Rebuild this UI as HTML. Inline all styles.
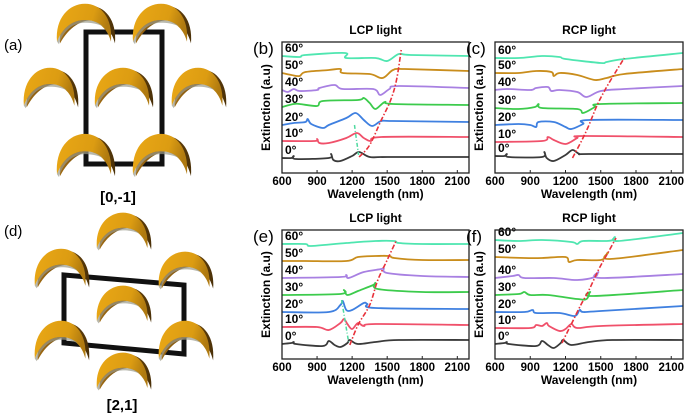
<!DOCTYPE html>
<html><head><meta charset="utf-8"><style>
html,body{margin:0;padding:0;background:#fff;width:685px;height:417px;overflow:hidden}
svg{display:block}
text{font-family:"Liberation Sans",Arial,sans-serif}
.b{font-weight:bold}
</style></head><body>
<svg id="s" width="685" height="417" viewBox="0 0 685 417" xmlns="http://www.w3.org/2000/svg">
<defs>
<linearGradient id="g" x1="0" y1="0" x2="1" y2="0.2">
<stop offset="0" stop-color="#eaa816"/><stop offset="0.7" stop-color="#dc9c12"/><stop offset="1" stop-color="#b07a10"/>
</linearGradient>
<linearGradient id="g2" x1="0" y1="0" x2="1" y2="0">
<stop offset="0" stop-color="#a06a10"/><stop offset="1" stop-color="#4a3008"/>
</linearGradient>
<symbol id="cr" viewBox="0 0 62 50" preserveAspectRatio="none">
<path d="M5,46 C4,20 18,4 34,4 C50,4 62,20 60,46 C56,30 48,21 38,20 C26,20 14,28 5,46 Z" fill="url(#g2)"/>
<path d="M2,44 C0,18 14,2 30,2 C46,2 58,18 56,44 C52,28 42,20 30,20 C18,20 8,28 2,44 Z" fill="url(#g)"/>
<path d="M2,44 C8,28 18,20 30,20 C38,20 44,23 48,27 C42,24 36,23 30,23 C18,23 8,32 4,47 Z" fill="#9a9a8a" opacity="0.7"/>
</symbol>
</defs>
<!-- panel a -->
<text x="4" y="50" font-size="15">(a)</text>
<rect x="86" y="32" width="76" height="132" fill="none" stroke="#111" stroke-width="5"/>
<use href="#cr" x="55" y="2" width="62" height="45"/>
<use href="#cr" x="131" y="2" width="62" height="45"/>
<use href="#cr" x="22" y="66" width="58" height="45"/>
<use href="#cr" x="93" y="66" width="62" height="45"/>
<use href="#cr" x="170" y="66" width="58" height="45"/>
<use href="#cr" x="55" y="132" width="62" height="48"/>
<use href="#cr" x="131" y="132" width="62" height="48"/>
<text x="118" y="202" font-size="15" class="b" text-anchor="middle">[0,-1]</text>
<!-- panel d -->
<text x="4" y="236" font-size="15">(d)</text>
<polygon points="64,275 184,285 184,354 64,343" fill="none" stroke="#111" stroke-width="5"/>
<use href="#cr" x="95" y="211" width="58" height="42"/>
<use href="#cr" x="33" y="247" width="58" height="44"/>
<use href="#cr" x="157" y="250" width="58" height="42"/>
<use href="#cr" x="95" y="284" width="58" height="42"/>
<use href="#cr" x="33" y="319" width="58" height="45"/>
<use href="#cr" x="157" y="319" width="58" height="45"/>
<use href="#cr" x="95" y="351" width="58" height="42"/>
<text x="122" y="410" font-size="15" class="b" text-anchor="middle">[2,1]</text>
<g id="charts"></g>
</svg>
<script>
var C=['#3a3a3a','#f0506a','#3f80e0','#3ccb4c','#a880e2','#c98d1c','#4fe6b0'];
var P=[
{x0:282,x1:469,yt:42,yb:173,lab:'(b)',t:'LCP light',
c:[
[[600,158],[680,158],[700,156],[720,159],[1000,158],[1020,154],[1040,160],[1100,161],[1200,156],[1260,152],[1350,157],[1500,157],[2200,157]],
[[600,141],[880,141],[900,139],[920,143],[1000,143],[1150,138],[1240,133],[1300,138],[1360,141],[1450,137],[2200,137]],
[[600,125],[700,123],[800,122],[820,119],[850,124],[950,128],[1000,125],[1150,118],[1230,113],[1300,120],[1370,126],[1450,121],[1550,121],[2200,122]],
[[600,107],[700,104],[750,104],[900,106],[950,101],[1250,100],[1300,98],[1350,103],[1400,109],[1480,102],[1550,104],[2200,105]],
[[600,90],[650,92],[700,89],[750,91],[900,90],[920,88],[1050,85],[1120,89],[1380,89],[1440,95],[1520,89],[1600,86],[2200,88]],
[[600,73],[680,75],[750,76],[800,72],[1000,70],[1100,69],[1120,73],[1350,74],[1460,78],[1550,70],[1650,69],[2200,71]],
[[600,56],[750,57],[800,55],[1140,53],[1150,58],[1400,58],[1500,61],[1600,54],[1700,55],[2200,56]]],
red:[[1260,157],[1350,145],[1450,120],[1530,100],[1580,80],[1620,50]],gr:[[1220,125],[1255,155]]},
{x0:495,x1:683,yt:42,yb:173,lab:'(c)',t:'RCP light',
c:[
[[600,156],[680,156],[700,154],[720,157],[1000,157],[1020,152],[1040,158],[1100,161],[1200,155],[1260,150],[1320,154],[1400,154],[2200,154]],
[[600,142],[1000,141],[1050,137],[1100,140],[1200,144],[1300,138],[1350,136],[2200,137]],
[[600,125],[800,124],[900,125],[950,127],[970,122],[1100,122],[1200,127],[1250,129],[1350,124],[1400,120],[2200,120]],
[[600,108],[800,109],[940,107],[970,104],[1000,108],[1300,109],[1350,113],[1450,107],[1500,104],[2200,103]],
[[600,90],[700,89],[900,90],[950,88],[1050,87],[1080,91],[1150,90],[1300,92],[1380,97],[1500,91],[1700,89],[2200,86]],
[[600,73],[800,73],[950,71],[1080,72],[1100,76],[1150,73],[1300,75],[1450,80],[1550,78],[1700,74],[2200,69]],
[[600,58],[800,58],[1000,56],[1150,57],[1200,59],[1500,63],[1550,62],[1700,59],[2200,53]]],
red:[[1260,158],[1340,140],[1400,125],[1470,105],[1560,85],[1700,58]]},
{x0:282,x1:469,yt:230,yb:359,lab:'(e)',t:'LCP light',
c:[
[[600,344],[680,343],[700,342],[720,344],[950,346],[1000,341],[1050,345],[1100,347],[1160,343],[1180,340],[1250,344],[1400,342],[1600,340],[2200,340]],
[[600,327],[900,327],[1000,330],[1100,323],[1130,319],[1160,324],[1200,329],[1250,323],[1300,326],[1400,324],[2200,325]],
[[600,312],[1000,312],[1100,305],[1120,301],[1150,310],[1200,310],[1300,303],[1330,304],[1400,308],[2200,309]],
[[600,295],[1100,294],[1130,290],[1160,295],[1250,291],[1380,285],[1400,283],[1420,289],[1800,292],[2200,292]],
[[600,278],[1100,277],[1150,275],[1170,278],[1300,272],[1450,269],[1470,268],[1500,273],[1800,276],[2200,277]],
[[600,261],[800,261],[1150,261],[1250,257],[1400,256],[1520,256],[1560,258],[1800,260],[2200,260]],
[[600,244],[800,244],[850,246],[1150,243],[1400,241],[1560,241],[1600,243],[1800,244],[2200,244]]],
red:[[1180,345],[1250,325],[1350,305],[1420,280],[1500,260],[1580,240]],gr:[[1110,300],[1170,342]]},
{x0:495,x1:683,yt:230,yb:359,lab:'(f)',t:'RCP light',
c:[
[[600,344],[680,343],[700,342],[720,344],[950,346],[1000,341],[1050,345],[1100,348],[1160,343],[1180,340],[1250,345],[1400,342],[1600,340],[2200,340]],
[[600,328],[900,328],[950,325],[1000,326],[1040,323],[1060,326],[1150,331],[1200,329],[1250,324],[1300,328],[1500,326],[2200,324]],
[[600,312],[850,312],[920,310],[950,313],[1150,313],[1280,316],[1320,310],[1350,312],[1500,311],[2200,306]],
[[600,295],[800,294],[850,292],[900,295],[1050,295],[1300,299],[1380,299],[1410,292],[1440,296],[2200,290]],
[[600,278],[750,276],[800,275],[850,278],[1100,278],[1300,280],[1450,277],[1480,272],[1500,278],[2200,274]],
[[600,257],[850,258],[1000,258],[1200,257],[1230,262],[1300,260],[1500,260],[1540,256],[1560,253],[1580,259],[2200,250]],
[[600,240],[800,241],[1000,240],[1250,242],[1300,244],[1350,241],[1550,241],[1600,240],[1620,237],[1650,241],[2200,233]]],
red:[[1170,343],[1250,324],[1330,305],[1400,290],[1480,270],[1560,253],[1630,238]]}
];
function sm(pts){var d='M'+pts[0][0].toFixed(1)+','+pts[0][1].toFixed(1);
for(var i=0;i<pts.length-1;i++){var p0=pts[i-1]||pts[i],p1=pts[i],p2=pts[i+1],p3=pts[i+2]||p2;
var c1=[p1[0]+(p2[0]-p0[0])/6,p1[1]+(p2[1]-p0[1])/6],c2=[p2[0]-(p3[0]-p1[0])/6,p2[1]-(p3[1]-p1[1])/6];
d+=' C'+c1[0].toFixed(1)+','+c1[1].toFixed(1)+' '+c2[0].toFixed(1)+','+c2[1].toFixed(1)+' '+p2[0].toFixed(1)+','+p2[1].toFixed(1);}
return d;}
var h='';
P.forEach(function(p){
var X=function(w){return p.x0+(w-600)/1600*(p.x1-p.x0);};
var cx=(p.x0+p.x1)/2;
h+='<text x="'+cx+'" y="'+(p.yt-8)+'" font-size="12" class="b" text-anchor="middle">'+p.t+'</text>';
h+='<text x="'+(p.x0-29)+'" y="'+(p.yt+12)+'" font-size="17">'+p.lab+'</text>';
var ym=(p.yt+p.yb)/2;
h+='<text transform="translate('+(p.x0-12)+','+ym+') rotate(-90)" font-size="12" class="b" text-anchor="middle">Extinction (a.u)</text>';
h+='<text x="'+cx+'" y="'+(p.yb+25)+'" font-size="12" class="b" text-anchor="middle">Wavelength (nm)</text>';
[600,900,1200,1500,1800,2100].forEach(function(w){var x=X(w);
h+='<line x1="'+x+'" y1="'+p.yb+'" x2="'+x+'" y2="'+(p.yb-3)+'" stroke="#222" stroke-width="1"/>';
h+='<text x="'+x+'" y="'+(p.yb+12)+'" font-size="11.5" class="b" text-anchor="middle">'+w+'</text>';});
p.c.forEach(function(c,i){var pts=c.map(function(q){return [X(q[0]),q[1]];});
h+='<path d="'+sm(pts)+'" fill="none" stroke="'+C[i]+'" stroke-width="1.8"/>';
h+='<text x="'+(p.x0+3)+'" y="'+(c[0][1]-4)+'" font-size="12" class="b">'+(i*10)+'°</text>';});
if(p.gr){h+='<path d="'+sm(p.gr.map(function(q){return [X(q[0]),q[1]];}))+'" fill="none" stroke="#4fd9a0" stroke-width="1.5" stroke-dasharray="4,2,1,2"/>';}
h+='<path d="'+sm(p.red.map(function(q){return [X(q[0]),q[1]];}))+'" fill="none" stroke="#e8313a" stroke-width="1.6" stroke-dasharray="5,2,1.5,2"/>';
h+='<rect x="'+p.x0+'" y="'+p.yt+'" width="'+(p.x1-p.x0)+'" height="'+(p.yb-p.yt)+'" fill="none" stroke="#222" stroke-width="1.3"/>';
});
document.getElementById('charts').innerHTML=h;
</script>
</body></html>
